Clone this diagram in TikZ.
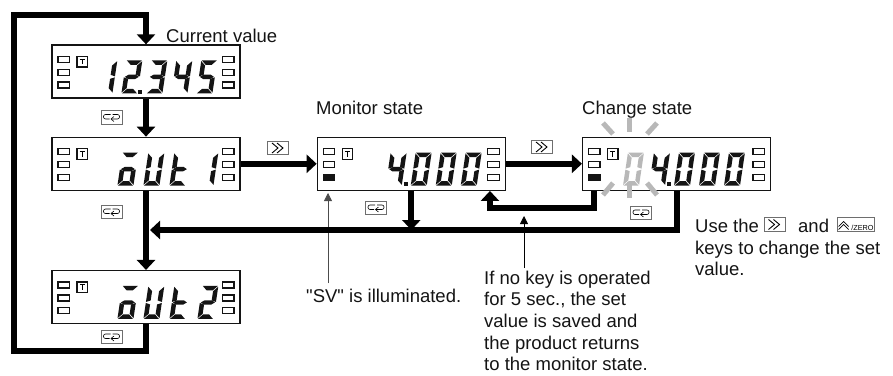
\documentclass[tikz,border=0pt]{standalone}
\usepackage{fontspec}
\setmainfont{Liberation Sans}
\newfontfamily\droitfont{Liberation Sans}
\usetikzlibrary{arrows.meta, positioning}
\definecolor{Encre}{RGB}{20,20,20}
\definecolor{Clignote}{RGB}{184,184,184}
\definecolor{Touche}{RGB}{110,110,110}
\tikzset{lcdbox/.style={rectangle, draw=Encre, fill=white, line width=1.3pt,
  minimum width=188pt, minimum height=53pt, inner sep=0pt}}
\tikzset{lamp/.style={draw=Encre, line width=1.3pt, fill=white}}
\tikzset{keybox/.style={rectangle, draw=Touche, fill=white, line width=0.7pt,
  minimum width=21pt, minimum height=13.5pt, inner sep=0pt}}
\tikzset{lab/.style={anchor=base west, inner sep=0pt, text=Encre,
  font=\fontsize{18.5}{21.6}\selectfont}}
\tikzset{labm/.style={lab, anchor=north west, align=left}}
\tikzset{fl/.style={-{Triangle[length=10pt, width=18pt]}, draw=black, line width=6pt}}
\tikzset{fin/.style={-{Triangle[length=8pt, width=8pt]}, line width=0.8pt}}
\tikzset{ray/.style={draw=Clignote, line width=5pt}}
\newcommand\lcdsega{(0.5,0)--(15.5,0)--(11,4.5)--(5,4.5)--cycle}
\newcommand\lcdsegb{(16,0.8)--(11.5,5.2)--(11.5,14.5)--(16,16)--cycle}
\newcommand\lcdsegc{(16,17)--(11.5,18.5)--(11.5,27.8)--(16,32.2)--cycle}
\newcommand\lcdsegd{(0.5,33)--(15.5,33)--(11,28.5)--(5,28.5)--cycle}
\newcommand\lcdsege{(0,17)--(4.5,18.5)--(4.5,27.8)--(0,32.2)--cycle}
\newcommand\lcdsegf{(0,0.8)--(4.5,5.2)--(4.5,14.5)--(0,16)--cycle}
\newcommand\lcdsegg{(1,16.5)--(4.5,14.3)--(11.5,14.3)--(15,16.5)--(11.5,18.7)--(4.5,18.7)--cycle}
% box, x offset, segments
\newcommand\lcddigit[4][Encre]{
  \begin{scope}[shift={(#2.north west)}, shift={(#3+5,16)}, xslant=0.15]
  \foreach \s in {#4} {\fill[#1] \csname lcdseg\s\endcsname;}
  \end{scope}}
\newcommand\lcdpoint[2]{\fill[Encre, shift={(#1.north west)}] (#2,45.5) rectangle ++(4,4);}
\newcommand\lcdpanel[2][white]{
  \begin{scope}[shift={(#2.north west)}]
  \foreach \y in {12,25} {\draw[lamp] (6.5,\y) rectangle ++(11.5,6);}
  \draw[lamp, fill=#1] (6.5,37.5) rectangle ++(11.5,6);
  \foreach \y in {12,25,37.5} {\draw[lamp] (171,\y) rectangle ++(11.5,6);}
  \draw[lamp] (25.5,12) rectangle ++(10.5,10.5);
  \draw[line width=0.8pt] (28.3,14.7) -- (33.2,14.7) (30.8,14.7) -- (30.8,20);
  \end{scope}}
\newcommand\retglyph[1]{
  \draw[shift={(#1.center)}, line width=0.6pt, rounded corners=2pt]
    (-1,-3) -- (-8,-3) -- (-8,1.5) -- (-2,1.5);
  \draw[shift={(#1.center)}, line width=0.6pt, rounded corners=2pt, -{Straight Barb[length=3pt, width=5pt]}]
    (1,-3) -- (8,-3) -- (8,1.5) -- (-1,1.5);}
\newcommand\nextglyph[1]{
  \draw[shift={(#1.center)}, line width=0.9pt]
    (-6,-5) -- (0,0) -- (-6,5) (-1,-5) -- (5,0) -- (-1,5);}
\begin{document}
\begin{tikzpicture}[x=1pt, y=-1pt, node distance=38pt and 76pt]
\useasboundingbox (0,0) rectangle (893,375);
\node[lcdbox] (cur) at (146,71.5) {};
\node[lcdbox, below=of cur] (aut1) {};
\node[lcdbox, below=79pt of aut1] (aut2) {};
\node[lcdbox, right=of aut1] (mon) {};
\node[lcdbox, right=of mon] (chg) {};
\lcdpanel{cur} \lcdpanel{aut1} \lcdpanel{aut2}
\lcdpanel[Encre]{mon} \lcdpanel[Encre]{chg}
\lcddigit{cur}{45}{b,c}
\lcddigit{cur}{70}{a,b,g,e,d}
\lcdpoint{cur}{87}
\lcddigit{cur}{95}{a,b,g,c,d}
\lcddigit{cur}{120}{f,g,b,c}
\lcddigit{cur}{145}{a,f,g,c,d}
\lcddigit{aut1}{66}{a,g,c,d,e}
\lcddigit{aut1}{92}{f,b,e,c,d}
\lcddigit{aut1}{118}{f,e,g,d}
\lcddigit{aut1}{146}{b,c}
\lcddigit{aut2}{66}{a,g,c,d,e}
\lcddigit{aut2}{92}{f,b,e,c,d}
\lcddigit{aut2}{118}{f,e,g,d}
\lcddigit{aut2}{146}{a,b,g,e,d}
\foreach \b/\o in {mon/0, chg/-2} {
  \lcddigit{\b}{69+\o}{f,g,b,c}
  \lcdpoint{\b}{87+\o}
  \lcddigit{\b}{94+\o}{a,b,c,d,e,f}
  \lcddigit{\b}{119+\o}{a,b,c,d,e,f}
  \lcddigit{\b}{144+\o}{a,b,c,d,e,f}
}
\lcddigit[Clignote]{chg}{41}{a,b,c,d,e,f}
\draw[ray] (629,118) -- (629,132);
\draw[ray] (603,123) -- (613,134);
\draw[ray] (657,123) -- (647,134);
\draw[ray] (613,183) -- (603,195);
\draw[ray] (647,183) -- (657,195);
\draw[ray] (629,182) -- (629,198);
\coordinate (loopbot) at (14,351);
\coordinate (looptop) at (14,15);
\coordinate (join) at (150,230);
\coordinate (back) at (540,208);
\draw[fl] (aut2.south) |- (loopbot) -- (looptop) -| (cur.north);
\draw[fl] (cur)--(aut1);
\draw[fl] (aut1)--(aut2);
\draw[fl] (aut1)--(mon);
\draw[fl] (mon)--(chg);
\node[keybox] (kr1) at (111.5,117.5) {};
\node[keybox] (kr2) at (111.5,212) {};
\node[keybox] (kr3) at (111.5,337) {};
\node[keybox] (kr4) at (376,208) {};
\node[keybox] (kr5) at (641,213) {};
\node[keybox] (kn1) at (278,148) {};
\node[keybox] (kn2) at (542,147) {};
\node[keybox] (kn3) at (774.5,224.5) {};
\node[keybox, minimum width=37pt] (kz) at (855.5,224.5) {};
\foreach \k in {kr1,kr2,kr3,kr4,kr5} {\retglyph{\k}}
\foreach \k in {kn1,kn2,kn3} {\nextglyph{\k}}
\draw[shift={(kz.west)}, line width=0.7pt]
  (2,2) -- (7,-3) -- (12,2) (2,5) -- (7,0) -- (12,5);
\node[anchor=base east, inner sep=0pt, font=\fontsize{7.3}{8}\selectfont] (kzt) at ([xshift=-0.5pt, yshift=-5.5pt]kz.east) {/ZERO};
\coordinate (svbas) at (328,283);
\coordinate (svhaut) at (328,193);
\coordinate (nokbas) at (524,268);
\coordinate (nokhaut) at (524,216);
\draw[fin, draw=black!70, fill=black!70] (svbas) -- (svhaut);
\draw[fin] (nokbas) -- (nokhaut);
\draw[fl] (chg.south) |- (join);
\draw[fl] (mon.south) -- (mon.south |- join);
\draw[fl] ([xshift=12pt]chg.south west) |- (back) -| ([xshift=-16pt]mon.south east);
\node[lab] (lcur) at (166,42) {Current value};
\node[lab] (lmon) at (316,114) {Monitor state};
\node[lab] (lchg) at (582,114) {Change state};
\node[lab] (lsv) at (306,302) {\droitfont "SV" is illuminated.};
\node[labm] (lnok) at (484,270.6) {If no key is operated\\for 5 sec., the set\\value is saved and\\the product returns\\to the monitor state.};
\node[lab] (luse) at (695,232) {Use the};
\node[lab] (land) at (798,232) {and};
\node[labm] (lkeys) at (695,240.6) {keys to change the set\\value.};
\end{tikzpicture}
\end{document}
